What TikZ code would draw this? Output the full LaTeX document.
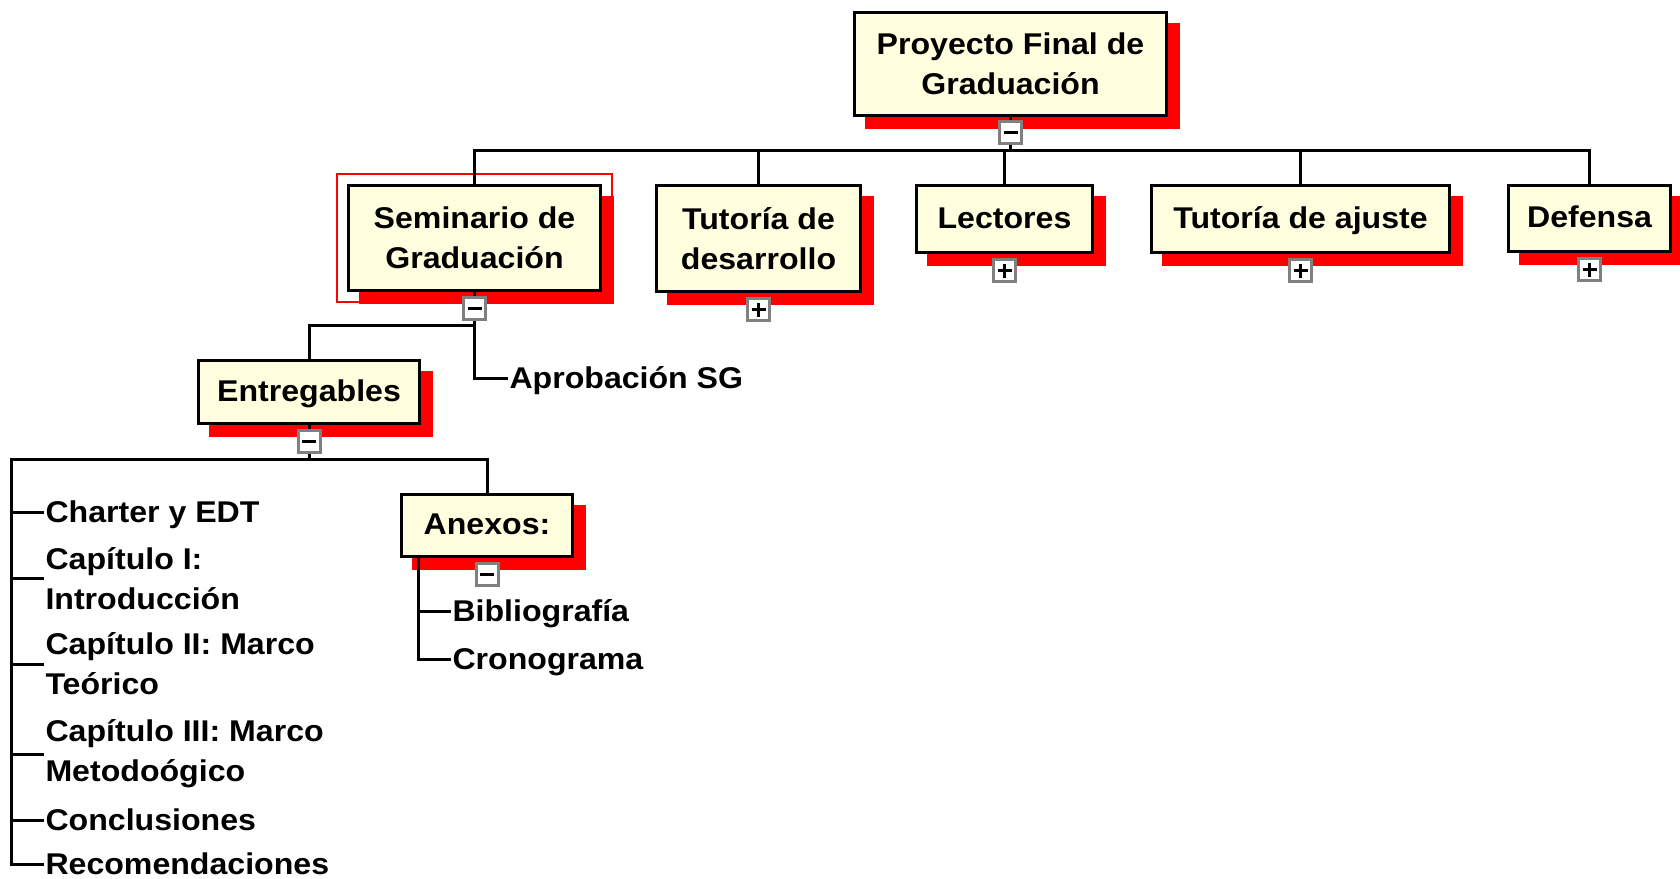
\documentclass[tikz,border=0pt]{standalone}
\usepackage{fontspec}
\newfontfamily\wbsfamily{Liberation Sans}[FakeStretch=1.07]
\usetikzlibrary{positioning,shadows,fit}

\definecolor{cream}{RGB}{255,255,224}
\definecolor{togglegray}{RGB}{128,128,128}
\newcommand{\wbsfont}{\wbsfamily\bfseries\fontsize{30pt}{40pt}\selectfont}

\begin{document}
\begin{tikzpicture}[
    x = 1pt, y = -1pt,
    line width = 3pt,
    wbs/.style={rectangle, draw, fill=cream, inner sep=0pt, align=center, font=\wbsfont,
        general shadow={fill=red, draw=red, shadow xshift=11.5pt, shadow yshift=-11.5pt}},
    wbsone/.style={wbs, text height=18pt, text depth=0pt},
    leaf/.style={anchor=west, inner sep=0pt, align=left, font=\wbsfont},
    leafone/.style={leaf, text height=21.5pt, text depth=0pt},
    tglbox/.style={rectangle, draw=togglegray, fill=white, minimum size=22pt, inner sep=0pt},
    togminus/.style={tglbox, path picture={\draw[black]
        ([xshift=-7pt]path picture bounding box.center) -- ([xshift=7pt]path picture bounding box.center);}},
    togplus/.style={tglbox, path picture={\draw[black]
        ([xshift=-7pt]path picture bounding box.center) -- ([xshift=7pt]path picture bounding box.center)
        ([yshift=-7pt]path picture bounding box.center) -- ([yshift=7pt]path picture bounding box.center);}},
    selframe/.style={draw=red, line width=2.5pt, inner sep=10pt}
]
\useasboundingbox (0,0) rectangle (1680,878);

% Main node
\node[wbs, minimum width=312pt, minimum height=103pt] (top) at (1010.5,64) {Proyecto Final de\\Graduación};

% First level
\node[wbs, minimum width=252pt, minimum height=105pt] (sem) at (474.5,238) {Seminario de\\Graduación};
\node[wbs, minimum width=204pt, minimum height=106pt, right=53pt of sem.north east, anchor=north west] (tdes) {Tutoría de\\desarrollo};
\node[wbsone, minimum width=176pt, minimum height=67pt, right=53pt of tdes.north east, anchor=north west] (lect) {Lectores};
\node[wbsone, minimum width=298pt, minimum height=67pt, right=56pt of lect.north east, anchor=north west] (taj) {Tutoría de ajuste};
\node[wbsone, minimum width=162pt, minimum height=66pt, right=56pt of taj.north east, anchor=north west] (def) {Defensa};
\node[selframe, fit=(sem)] (semsel) {};

% Under Seminario
\node[wbsone, minimum width=221pt, minimum height=63pt] (ent) at (309,392) {Entregables};
\node[leafone] (aprob) at (508,378) {Aprobación SG};
\node[wbsone, minimum width=171pt, minimum height=62pt] (anx) at (487,525.5) {Anexos:};

% Leaves
\node[leafone] (charter) at (44,512) {Charter y EDT};
\node[leaf] (cap1) at (44,578.5) {Capítulo I:\\Introducción};
\node[leaf] (cap2) at (44,664) {Capítulo II: Marco\\Teórico};
\node[leaf] (cap3) at (44,754) {Capítulo III: Marco\\Metodoógico};
\node[leafone] (concl) at (44,820) {Conclusiones};
\node[leafone] (recom) at (44,864) {Recomendaciones};
\node[leafone] (biblio) at (451,611) {Bibliografía};
\node[leafone] (crono) at (451,659) {Cronograma};

% Connectors
\coordinate (topbus) at (1010.5,150.5);
\coordinate (sembus) at (474.5,325);
\coordinate (entbus) at (309,459);
\coordinate (entleft) at (11,459);

\draw (top.south) -- (topbus);
\foreach \c in {sem,tdes,lect,taj,def}
    \draw (topbus) -| (\c.north);

\draw (sem.south) -- (sembus);
\draw (sembus) -| (ent.north);
\draw (sembus) |- (aprob.west);

\draw (ent.south) -- (entbus);
\draw (entbus) -| (anx.north);
\draw (entbus) -- (entleft) |- (recom.west);
\foreach \n in {charter,cap1,cap2,cap3,concl}
    \draw (entleft |- \n.west) -- (\n.west);

\draw ([xshift=18pt]anx.south west) |- (crono.west);
\draw ([xshift=18pt]anx.south west |- biblio.west) -- (biblio.west);

% Toggles
\node[togminus, below=3pt of top] (topT) {};
\node[togminus, below=4pt of sem] (semT) {};
\node[togplus, below=4pt of tdes] (tdesT) {};
\node[togplus, below=4pt of lect] (lectT) {};
\node[togplus, below=4pt of taj] (tajT) {};
\node[togplus, below=4pt of def] (defT) {};
\node[togminus, below=4pt of ent] (entT) {};
\node[togminus, below=4pt of anx] (anxT) {};

\end{tikzpicture}
\end{document}
